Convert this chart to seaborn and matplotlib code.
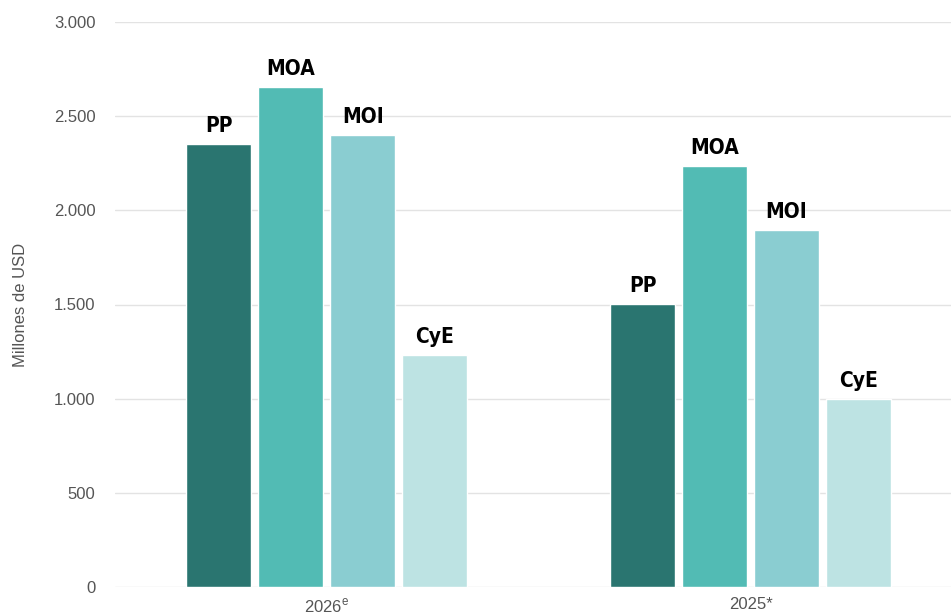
import pandas as pd
import seaborn as sns
import matplotlib.pyplot as plt
from matplotlib.ticker import FuncFormatter

years = ['2026$^{\\mathregular{e}}$', '2025*']
sectors = ['PP', 'MOA', 'MOI', 'CyE']
vals_2026 = [2350, 2655, 2400, 1232]
vals_2025 = [1503, 2235, 1896, 998]
colors = ['#2a7570', '#52bbb4', '#8acdd1', '#bde3e3']

df = pd.DataFrame({
    'Year': [years[0]] * 4 + [years[1]] * 4,
    'Sector': sectors * 2,
    'Value': vals_2026 + vals_2025,
})

sns.set_style('white')
plt.rcParams['font.family'] = ['Liberation Sans', 'DejaVu Sans']

fig = plt.figure(figsize=(9.51, 6.16), dpi=100)
ax = fig.add_axes([115 / 951, 1 - 587 / 616, 1 - 115 / 951, (587 - 22) / 616])

sns.barplot(data=df, x='Year', y='Value', hue='Sector', palette=colors,
            width=0.68, gap=0.1, saturation=1, legend=False, ax=ax)

# sector name above each bar
for cont, name in zip(ax.containers, sectors):
    for bar in cont:
        ax.annotate(name, (bar.get_x() + bar.get_width() / 2, bar.get_height()),
                    xytext=(0, 6), textcoords='offset points', ha='center', va='bottom',
                    fontsize=15, fontweight='heavy', fontstretch='condensed',
                    family='DejaVu Sans', color='black')

ax.set_ylim(0, 3000)
ax.set_xlim(-0.5, 1.473)
ax.set_yticks(range(0, 3001, 500))
ax.yaxis.set_major_formatter(FuncFormatter(lambda v, p: f'{int(v):,}'.replace(',', '.')))
ax.grid(axis='y', color='#e3e3e3', linewidth=1)
ax.set_axisbelow(True)
for s in ax.spines.values():
    s.set_visible(False)
ax.tick_params(axis='y', length=0, pad=14, labelsize=12, labelcolor='#555555')
ax.tick_params(axis='x', length=0, pad=7, labelsize=12, labelcolor='#555555')
ax.set_xlabel('')
ax.set_ylabel('Millones de USD', fontsize=12, color='#555555', labelpad=19)

fig.savefig('out.png', dpi=100)
